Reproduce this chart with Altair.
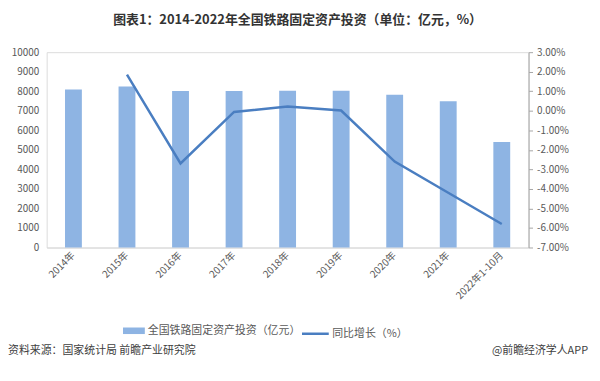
import altair as alt
import pandas as pd

categories = ["2014年", "2015年", "2016年", "2017年", "2018年", "2019年", "2020年", "2021年", "2022年1-10月"]
investment = [8088, 8238, 8015, 8010, 8028, 8029, 7819, 7489, 5396]
growth_pct = [None, 1.85, -2.70, -0.06, 0.22, 0.01, -2.60, -4.20, -5.80]
left_ticks = [0, 1000, 2000, 3000, 4000, 5000, 6000, 7000, 8000, 9000, 10000]
right_ticks = [-0.07, -0.06, -0.05, -0.04, -0.03, -0.02, -0.01, 0.0, 0.01, 0.02, 0.03]
bar_name = "全国铁路固定资产投资（亿元）"
line_name = "同比增长（%）"
title_text = "图表1：2014-2022年全国铁路固定资产投资（单位：亿元，%）"
source_text = "资料来源：国家统计局 前瞻产业研究院"
brand_text = "@前瞻经济学人APP"

FONT = "Noto Sans CJK SC"
GRAY = "#595959"

bar_df = pd.DataFrame({"cat": categories, "val": investment, "s": bar_name})
line_df = pd.DataFrame({"cat": categories, "g": [None if v is None else v / 100 for v in growth_pct], "s": line_name}).dropna()

xenc = alt.X("cat:N", sort=categories, title=None,
             scale=alt.Scale(paddingInner=0, paddingOuter=0),
             axis=alt.Axis(labelAngle=-45, labelAlign="right", labelBaseline="middle",
                           labelColor=GRAY, labelFontSize=10, labelFont=FONT,
                           domainColor="#D9D9D9", ticks=False, labelPadding=6))

bars = alt.Chart(bar_df).mark_bar(size=17).encode(
    x=xenc,
    y=alt.Y("val:Q", title=None, scale=alt.Scale(domain=[0, 10000], nice=False),
            axis=alt.Axis(values=left_ticks, format="d", grid=False, domain=False, ticks=False,
                          labelColor=GRAY, labelFontSize=10, labelFont=FONT, labelPadding=8)),
    color=alt.Color("s:N", title=None, scale=alt.Scale(range=["#8EB4E3"]),
                    legend=alt.Legend(orient="none", legendX=76, legendY=269,
                                      symbolType="M-1,-0.3L1,-0.3L1,0.3L-1,0.3Z", symbolSize=484,
                                      symbolOpacity=1, labelFontSize=11, labelColor=GRAY,
                                      labelFont=FONT, labelOffset=2)),
)

line = alt.Chart(line_df).mark_line(strokeWidth=2.5).encode(
    x=alt.X("cat:N", sort=categories),
    y=alt.Y("g:Q", title=None, scale=alt.Scale(domain=[-0.07, 0.03], nice=False),
            axis=alt.Axis(orient="right", values=right_ticks, format=".2%", grid=False,
                          labelExpr="replace(datum.label, '\u2212', '-')",
                          domainColor="#A6A6A6", tickColor="#A6A6A6", tickSize=4,
                          labelColor=GRAY, labelFontSize=10, labelFont=FONT, labelPadding=4)),
    color=alt.Color("s:N", title=None, scale=alt.Scale(range=["#4A7EC1"]),
                    legend=alt.Legend(orient="none", legendX=256, legendY=269,
                                      symbolType="stroke", symbolSize=729, symbolStrokeWidth=2.5,
                                      labelFontSize=11, labelColor=GRAY, labelFont=FONT,
                                      labelOffset=2)),
)

src = alt.Chart(pd.DataFrame({"t": [source_text]})).mark_text(
    align="left", baseline="middle", fontSize=11, font=FONT, color="#404040"
).encode(text="t:N", x=alt.value(-39), y=alt.value(301))

brand = alt.Chart(pd.DataFrame({"t": [brand_text]})).mark_text(
    align="right", baseline="middle", fontSize=11, font=FONT, color="#404040"
).encode(text="t:N", x=alt.value(546), y=alt.value(301))

chart = alt.layer(bars, line, src, brand).resolve_scale(
    y="independent", color="independent"
).properties(
    width=486, height=197,
    autosize=alt.AutoSizeParams(type="none"),
    padding={"left": 39, "top": 43, "right": 64, "bottom": 120},
    title=alt.TitleParams(title_text, anchor="middle", dx=10, offset=20,
                          fontSize=13, font=FONT, fontWeight="bold", color="#333333"),
).configure_view(stroke=None).configure(background="white")

chart.save("out.html", embed_options={"renderer": "svg", "actions": False})
